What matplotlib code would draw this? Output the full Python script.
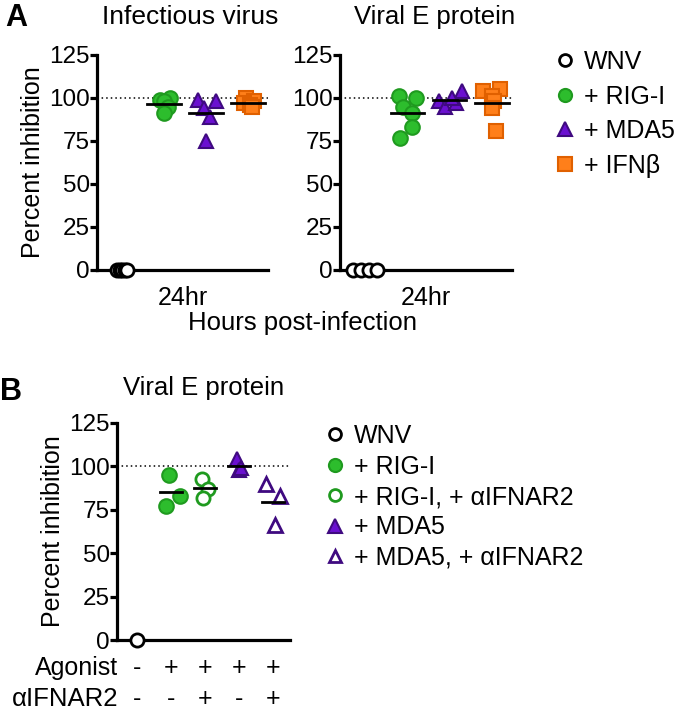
import matplotlib
matplotlib.use("Agg")
import numpy as np
from matplotlib import pyplot as plt
from matplotlib.lines import Line2D

plt.rcParams['font.family'] = ['Liberation Sans', 'DejaVu Sans']
plt.rcParams['font.size'] = 18

GREEN = "#2dbd2d"
GREEN_E = "#1f9a1f"
PURPLE = "#6a10d0"
PURPLE_E = "#3f0a80"
ORANGE = "#ff7f1a"
ORANGE_E = "#e06000"

# panel A, infectious virus (percent inhibition at 24hr)
inf_wnv = [0, 0, 0, 0, 0]
inf_rig = [99, 100, 98, 95, 91]
inf_mda = [99, 98, 94, 89, 75]
inf_ifn = [100, 98, 97, 96, 95]
inf_wnv_dx = [-0.12, -0.06, 0.0, 0.06, 0.12]
inf_rig_dx = [-0.1, 0.15, 0.0, 0.1, 0.0]
inf_mda_dx = [-0.2, 0.25, -0.05, 0.1, 0.0]
inf_ifn_dx = [-0.05, 0.15, -0.1, 0.05, 0.1]

# panel A, viral E protein
ep_wnv = [0, 0, 0, 0]
ep_rig = [101, 100, 95, 91, 83, 77]
ep_mda = [98, 95, 97, 104, 100]
ep_ifn = [104, 105, 101, 98, 94, 81]
ep_wnv_dx = [-0.28, -0.09, 0.09, 0.28]
ep_rig_dx = [-0.2, 0.2, -0.1, 0.1, 0.12, -0.18]
ep_mda_dx = [-0.25, -0.1, 0.15, 0.3, 0.05]
ep_ifn_dx = [-0.2, 0.2, 0.0, 0.05, 0.0, 0.1]

# panel B, viral E protein with receptor blockade
b_labels = ["WNV", "+ RIG-I", "+ RIG-I, + \u03b1IFNAR2", "+ MDA5", "+ MDA5, + \u03b1IFNAR2"]
b_values = [[0], [95, 77, 83], [93, 87, 82], [104, 98, 99], [90, 83, 66]]
b_dx = [[0], [-0.05, -0.15, 0.25], [-0.1, 0.1, -0.05], [-0.05, 0.0, 0.05], [-0.2, 0.2, 0.05]]
agonist = ["-", "+", "+", "+", "+"]
ifnar = ["-", "-", "+", "-", "+"]

wnv_style = dict(marker="o", mfc="white", mec="black", mew=2, ms=9.5)
rig_style = dict(marker="o", mfc=GREEN, mec=GREEN_E, mew=1.5, ms=10.5)
rig_open = dict(marker="o", mfc="white", mec=GREEN_E, mew=2, ms=9.5)
mda_style = dict(marker="^", mfc=PURPLE, mec=PURPLE_E, mew=1.5, ms=10.5)
mda_open = dict(marker="^", mfc="white", mec=PURPLE_E, mew=2, ms=9.5)
ifn_style = dict(marker="s", mfc=ORANGE, mec=ORANGE_E, mew=1.5, ms=10.5)


def style_axes(ax, xlim):
    ax.set_xlim(*xlim)
    ax.set_ylim(0, 125)
    ax.set_yticks([0, 25, 50, 75, 100, 125])
    ax.set_xticks([])
    for s in ["top", "right"]:
        ax.spines[s].set_visible(False)
    for s in ["left", "bottom"]:
        ax.spines[s].set_linewidth(2.3)
    ax.tick_params(axis="y", width=2.3, length=5, labelsize=17.5, pad=0)
    ax.axhline(100, color="black", ls=(0, (1, 2)), lw=1.1, zorder=1)


def group(ax, x, vals, dx, style, mean=True, hw=0.32):
    xs = [x + d for d in dx]
    ax.plot(xs, vals, ls="none", clip_on=False, zorder=3, **style)
    if mean:
        m = np.mean(vals)
        ax.plot([x - hw, x + hw], [m, m], color="black", lw=2, zorder=4)


fig = plt.figure(figsize=(6.8, 7.12), dpi=100)

axA1 = fig.add_axes([0.1426, 0.6208, 0.2514, 0.302])
axA2 = fig.add_axes([0.5, 0.6208, 0.2529, 0.302])
axB = fig.add_axes([0.172, 0.1011, 0.2545, 0.3048])

for ax, sets in [(axA1, [(inf_wnv, inf_wnv_dx, wnv_style), (inf_rig, inf_rig_dx, rig_style),
                         (inf_mda, inf_mda_dx, mda_style), (inf_ifn, inf_ifn_dx, ifn_style)]),
                 (axA2, [(ep_wnv, ep_wnv_dx, wnv_style), (ep_rig, ep_rig_dx, rig_style),
                         (ep_mda, ep_mda_dx, mda_style), (ep_ifn, ep_ifn_dx, ifn_style)])]:
    style_axes(ax, (-0.6, 3.48))
    for i, (v, d, st) in enumerate(sets):
        group(ax, i, v, d, st, mean=(i > 0), hw=0.4)
    ax.text(0.5, -0.13, "24hr", transform=ax.transAxes, ha="center", va="center", fontsize=18)

axA1.set_ylabel("Percent inhibition", fontsize=18, labelpad=3)
axA1.text(0.544, 1 + 38 / 215, "Infectious virus", transform=axA1.transAxes, ha="center", va="center", fontsize=19)
axA2.text(0.547, 1 + 38 / 215, "Viral E protein", transform=axA2.transAxes, ha="center", va="center", fontsize=18.5)
fig.text(302 / 680, 1 - 323 / 712, "Hours post-infection", ha="center", va="center", fontsize=18.5)

style_axes(axB, (-0.59, 4.5))
b_styles = [wnv_style, rig_style, rig_open, mda_style, mda_open]
for i in range(5):
    group(axB, i, b_values[i], b_dx[i], b_styles[i], mean=(i > 0), hw=0.32)
axB.set_ylabel("Percent inhibition", fontsize=18, labelpad=3)
axB.text(0.503, 1 + 35 / 217, "Viral E protein", transform=axB.transAxes, ha="center", va="center", fontsize=18.5)
for i in range(5):
    axB.text(i, -0.13, agonist[i], transform=axB.get_xaxis_transform(), ha="center", va="center", fontsize=18)
    axB.text(i, -0.27, ifnar[i], transform=axB.get_xaxis_transform(), ha="center", va="center", fontsize=18)
axB.text(-0.55, -0.13, "Agonist", transform=axB.get_xaxis_transform(), ha="right", va="center", fontsize=18)
axB.text(-0.55, -0.27, "\u03b1IFNAR2", transform=axB.get_xaxis_transform(), ha="right", va="center", fontsize=18.5)

fig.text(0.008, 1 - 18 / 712, "A", fontsize=22, fontweight="bold", va="center")
fig.text(0.0, 1 - 392 / 712, "B", fontsize=22, fontweight="bold", va="center")


def handle(st):
    s = dict(st)
    s["ms"] = s["ms"] * 0.9
    return Line2D([], [], ls="none", **s)


legA = fig.legend([handle(wnv_style), handle(rig_style), handle(mda_style), handle(ifn_style)],
                  ["WNV", "+ RIG-I", "+ MDA5", "+ IFN\u03b2"],
                  loc="upper left", bbox_to_anchor=(556 / 680, 1 - 50 / 712), frameon=False,
                  fontsize=18, handletextpad=0.4, labelspacing=0.42, handlelength=0.7, borderaxespad=0,
                  borderpad=0)
legB = fig.legend([handle(s) for s in b_styles], b_labels,
                  loc="upper left", bbox_to_anchor=(326 / 680, 1 - 424 / 712), frameon=False,
                  fontsize=18, handletextpad=0.4, labelspacing=0.26, handlelength=0.7, borderaxespad=0,
                  borderpad=0)

fig.savefig("out.png", dpi=100)
